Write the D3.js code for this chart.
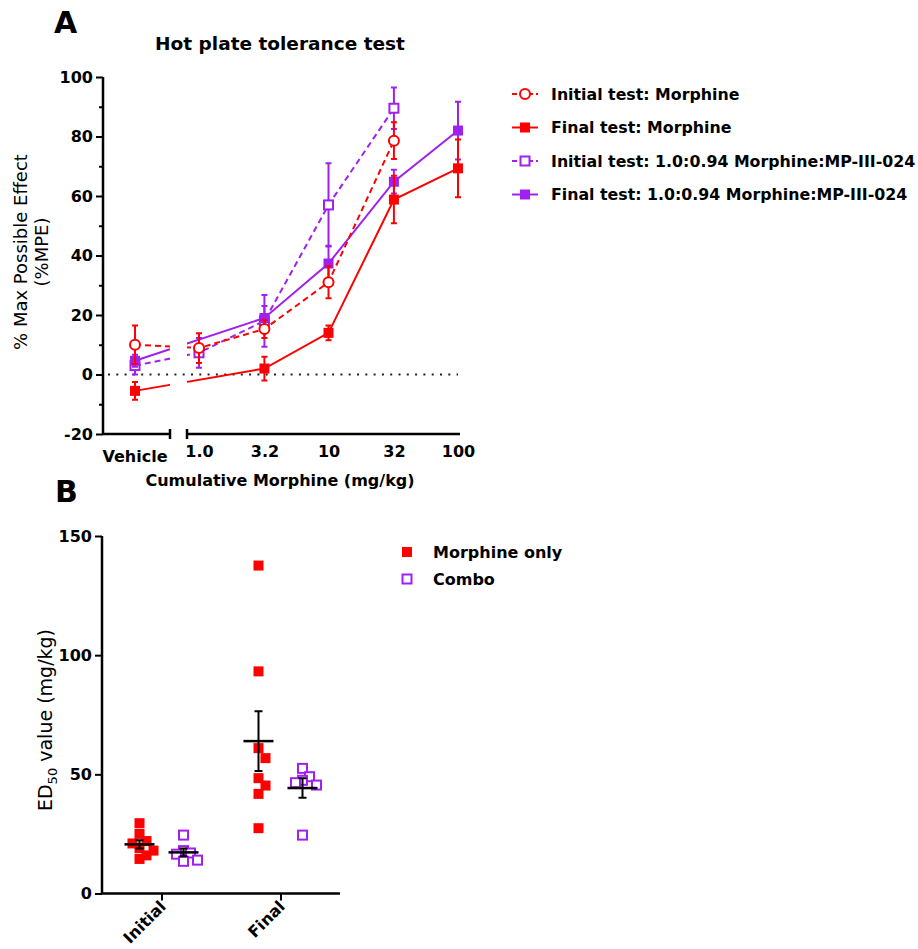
<!DOCTYPE html>
<html>
<head>
<meta charset="utf-8" />
<title>Hot plate tolerance test</title>
<script src="https://d3js.org/d3.v7.min.js"></script>
<style>
  body { margin: 0; background: #fff; }
  text { font-family: "DejaVu Sans", sans-serif; fill: #000; }
  .bold { font-weight: bold; }
</style>
</head>
<body>
<script>
// ---- panel A data: hot plate dose-effect (%MPE), null = no point
var doses = [0, 1, 3.2, 10, 32, 100];            // 0 = vehicle
var doseLabels = ['Vehicle', '1.0', '3.2', '10', '32', '100'];
var initMorphMean  = [10, 8.9, 15.3, 31, 78.6, null];
var initMorphSem   = [6.5, 5, 3, 5.4, 6.2, null];
var finalMorphMean = [-5.5, null, 2, 14, 58.8, 69.3];
var finalMorphSem  = [3, null, 4, 2.5, 8, 9.7];
var initComboMean  = [3, 7.3, 18, 57, 89.5, null];
var initComboSem   = [3, 5, 8.7, 14, 7, null];
var finalComboMean = [4.6, null, 19, 37.3, 64.8, 82];
var finalComboSem  = [2, null, 4, 6, 4, 9.7];
var yTicksA = [-20, 0, 20, 40, 60, 80, 100];
var yMinorA = [-10, 10, 30, 50, 70, 90];

// ---- panel B data: individual ED50 values (mg/kg)
var groups = ['Initial', 'Final'];
var morphED50 = {Initial: [29.5, 25, 22, 21, 19, 18, 16, 14.5],
                 Final: [137.6, 93.2, 61, 56.8, 48.4, 45.3, 41.8, 27.4]};
var comboED50 = {Initial: [24.5, 18, 17, 16.5, 14, 13.5],
                 Final: [52.5, 49, 47.5, 46.5, 45.5, 24.5]};
var yTicksB = [0, 50, 100, 150];

var red = '#ff0000', purple = '#a020f0';

var svg = d3.select('body').append('svg')
    .attr('width', 918)
    .attr('height', 949);

function styleTicks(g) {
  g.selectAll('.tick line').attr('stroke-width', 2);
  g.selectAll('.tick text').attr('class', 'bold').style('font-size', '16px')
      .style('font-family', '"DejaVu Sans", sans-serif');
}

// ================= Panel A =================
var yA = d3.scaleLinear().domain([-20, 100]).range([434, 77]);
var xLog = d3.scaleLog().domain([1, 100]).range([199, 458]);
var vehX = 135, axA = 103, brkL = 170, brkR = 187;
function xA(d) { return d === 0 ? vehX : xLog(d); }

svg.append('text').attr('class', 'bold').attr('x', 54).attr('y', 33)
    .style('font-size', '30px').text('A');
svg.append('text').attr('class', 'bold').attr('x', 280).attr('y', 50)
    .attr('text-anchor', 'middle').style('font-size', '18.5px')
    .text('Hot plate tolerance test');

// y axis
var gyA = svg.append('g').attr('transform', `translate(${axA},0)`)
    .call(d3.axisLeft(yA).tickValues(yTicksA).tickSize(7).tickPadding(3)
        .tickFormat(d => String(d)));
gyA.select('.domain').attr('stroke-width', 2.5).attr('d', `M0,${yA(100)}V${yA(-20)}`);
styleTicks(gyA);
var gyAm = svg.append('g').attr('transform', `translate(${axA},0)`)
    .call(d3.axisLeft(yA).tickValues(yMinorA).tickSize(4).tickFormat(''));
gyAm.select('.domain').remove();
gyAm.selectAll('.tick line').attr('stroke-width', 2);

// broken x axis
var xAxY = yA(-20);
svg.append('path').attr('fill', 'none').attr('stroke', '#000').attr('stroke-width', 2.5)
    .attr('d', `M${axA},${xAxY}H${brkL}M${brkL},${xAxY - 5}V${xAxY + 5}` +
               `M${brkR},${xAxY - 5}V${xAxY + 5}M${brkR},${xAxY}H${xLog(100) + 2}`);
var gxA = svg.append('g').attr('transform', `translate(0,${xAxY})`)
    .call(d3.axisBottom(xLog).tickValues(doses.slice(1)).tickSize(0).tickPadding(12)
        .tickFormat((d, i) => doseLabels[i + 1]));
gxA.select('.domain').remove();
styleTicks(gxA);
svg.append('text').attr('class', 'bold').attr('x', vehX).attr('y', xAxY + 28)
    .attr('text-anchor', 'middle').style('font-size', '16px').text(doseLabels[0]);
svg.append('text').attr('class', 'bold').attr('x', 280).attr('y', 486)
    .attr('text-anchor', 'middle').style('font-size', '16px')
    .text('Cumulative Morphine (mg/kg)');

// y label
var ylab = svg.append('g').attr('transform', 'translate(0,252)');
ylab.append('text').attr('transform', 'translate(27,0) rotate(-90)')
    .attr('text-anchor', 'middle').style('font-size', '18px').text('% Max Possible Effect');
ylab.append('text').attr('transform', 'translate(48,0) rotate(-90)')
    .attr('text-anchor', 'middle').style('font-size', '18px').text('(%MPE)');

// zero reference line
svg.append('line').attr('x1', axA + 5).attr('x2', xLog(100))
    .attr('y1', yA(0)).attr('y2', yA(0))
    .attr('stroke', '#222').attr('stroke-width', 2).attr('stroke-dasharray', '2,6.3');

// clip for the axis break gap
var defs = svg.append('defs');
var clip = defs.append('clipPath').attr('id', 'gap');
clip.append('rect').attr('x', 0).attr('y', 0).attr('width', brkL).attr('height', 949);
clip.append('rect').attr('x', brkR).attr('y', 0).attr('width', 918 - brkR).attr('height', 949);

var seriesA = [
  {name: 'Initial test: 1.0:0.94 Morphine:MP-III-024', mean: initComboMean, sem: initComboSem,
   color: purple, dash: '6,4', marker: 'openSquare'},
  {name: 'Final test: 1.0:0.94 Morphine:MP-III-024', mean: finalComboMean, sem: finalComboSem,
   color: purple, dash: null, marker: 'square'},
  {name: 'Initial test: Morphine', mean: initMorphMean, sem: initMorphSem,
   color: red, dash: '6,4', marker: 'openCircle'},
  {name: 'Final test: Morphine', mean: finalMorphMean, sem: finalMorphSem,
   color: red, dash: null, marker: 'square'}
];

function drawMarker(g, type, color) {
  if (type === 'square') {
    g.append('rect').attr('x', -5).attr('y', -5).attr('width', 10).attr('height', 10)
        .attr('fill', color);
  } else if (type === 'openSquare') {
    g.append('rect').attr('x', -4.5).attr('y', -4.5).attr('width', 9).attr('height', 9)
        .attr('fill', '#fff').attr('stroke', color).attr('stroke-width', 2);
  } else {
    g.append('circle').attr('r', 5).attr('fill', '#fff')
        .attr('stroke', color).attr('stroke-width', 2);
  }
}

var line = d3.line().defined(d => d.m !== null).x(d => xA(d.x)).y(d => yA(d.m));

seriesA.forEach(function (s) {
  var pts = doses.map((x, i) => ({x: x, m: s.mean[i], e: s.sem[i]}))
      .filter(d => d.m !== null);
  var g = svg.append('g');
  g.append('path').datum(pts).attr('d', line).attr('fill', 'none')
      .attr('stroke', s.color).attr('stroke-width', 2)
      .attr('stroke-dasharray', s.dash).attr('clip-path', 'url(#gap)');
  var eb = g.selectAll('.eb').data(pts).enter().append('g')
      .attr('transform', d => `translate(${xA(d.x)},0)`);
  eb.append('path').attr('fill', 'none').attr('stroke', s.color).attr('stroke-width', 2)
      .attr('d', d => `M0,${yA(d.m - d.e)}V${yA(d.m + d.e)}` +
                      `M-3,${yA(d.m - d.e)}H3M-3,${yA(d.m + d.e)}H3`);
  g.selectAll('.mk').data(pts).enter().append('g')
      .attr('transform', d => `translate(${xA(d.x)},${yA(d.m)})`)
      .each(function () { drawMarker(d3.select(this), s.marker, s.color); });
});

// legend A
var legOrder = [2, 3, 0, 1];
var legA = svg.append('g').attr('transform', 'translate(525,94)');
legOrder.forEach(function (k, i) {
  var s = seriesA[k];
  var row = legA.append('g').attr('transform', `translate(0,${i * 33.5})`);
  row.append('line').attr('x1', -13).attr('x2', 13).attr('stroke', s.color)
      .attr('stroke-width', 2).attr('stroke-dasharray', s.dash ? '5,3' : null);
  drawMarker(row.append('g'), s.marker, s.color);
  row.append('text').attr('class', 'bold').attr('x', 26).attr('dy', '0.36em')
      .style('font-size', '15.8px').text(s.name);
});

// ================= Panel B =================
var yB = d3.scaleLinear().domain([0, 150]).range([893.5, 536]);
var xB = d3.scalePoint().domain(groups).range([102, 340]).padding(0.5);
var axB = 102, off = 22, mk = 10;

svg.append('text').attr('class', 'bold').attr('x', 55).attr('y', 502)
    .style('font-size', '30px').text('B');

var gyB = svg.append('g').attr('transform', `translate(${axB},0)`)
    .call(d3.axisLeft(yB).tickValues(yTicksB).tickSize(7).tickPadding(3));
gyB.select('.domain').attr('stroke-width', 2.5).attr('d', `M0,${yB(150)}V${yB(0)}`);
styleTicks(gyB);

var gxB = svg.append('g').attr('transform', `translate(0,${yB(0)})`)
    .call(d3.axisBottom(xB).tickSize(7).tickPadding(6));
gxB.select('.domain').attr('stroke-width', 2.5).attr('d', `M${axB},0H340`);
styleTicks(gxB);
gxB.selectAll('.tick text')
    .attr('text-anchor', 'end').attr('dy', null).attr('y', 0)
    .attr('transform', 'translate(5,14) rotate(-45)');

var yl = svg.append('text').attr('transform', 'translate(52,720) rotate(-90)')
    .attr('text-anchor', 'middle').style('font-size', '19px');
yl.append('tspan').text('ED');
yl.append('tspan').attr('dy', 5).style('font-size', '13px').text('50');
yl.append('tspan').attr('dy', -5).text(' value (mg/kg)');

// simple swarm so overlapping points spread sideways
function swarm(vals, cx) {
  var placed = [], out = [], gx = mk * 0.7, gy = mk * 1.05, step = mk * 0.35;
  var order = vals.map((v, i) => i).sort((a, b) => vals[b] - vals[a]);
  order.forEach(function (i) {
    var py = yB(vals[i]), px, k = 0;
    while (true) {
      var n = k === 0 ? 0 : (k % 2 ? 1 : -1) * Math.ceil(k / 2);
      px = cx + n * step;
      if (!placed.some(p => Math.abs(p[0] - px) < gx && Math.abs(p[1] - py) < gy)) break;
      k++;
    }
    placed.push([px, py]);
    out[i] = [px, py];
  });
  return out;
}

function drawGroup(vals, cx, type, color) {
  var pos = swarm(vals, cx);
  var g = svg.append('g');
  pos.forEach(function (p) {
    drawMarker(g.append('g').attr('transform', `translate(${p[0]},${p[1]})`), type, color);
  });
  var m = d3.mean(vals), se = d3.deviation(vals) / Math.sqrt(vals.length);
  var gs = svg.append('g').attr('transform', `translate(${cx},0)`);
  gs.append('path').attr('fill', 'none').attr('stroke', '#000').attr('stroke-width', 2)
      .attr('d', `M0,${yB(m - se)}V${yB(m + se)}M-4,${yB(m - se)}H4M-4,${yB(m + se)}H4`);
  gs.append('line').attr('x1', -15).attr('x2', 15).attr('y1', yB(m)).attr('y2', yB(m))
      .attr('stroke', '#000').attr('stroke-width', 2.5);
}

groups.forEach(function (gname) {
  drawGroup(morphED50[gname], xB(gname) - off, 'square', red);
  drawGroup(comboED50[gname], xB(gname) + off, 'openSquare', purple);
});

// legend B
var legB = svg.append('g').attr('transform', 'translate(407,552)');
[['Morphine only', 'square', red], ['Combo', 'openSquare', purple]].forEach(function (d, i) {
  var row = legB.append('g').attr('transform', `translate(0,${i * 27})`);
  drawMarker(row.append('g'), d[1], d[2]);
  row.append('text').attr('class', 'bold').attr('x', 26).attr('dy', '0.36em')
      .style('font-size', '16px').text(d[0]);
});
</script>
</body>
</html>
